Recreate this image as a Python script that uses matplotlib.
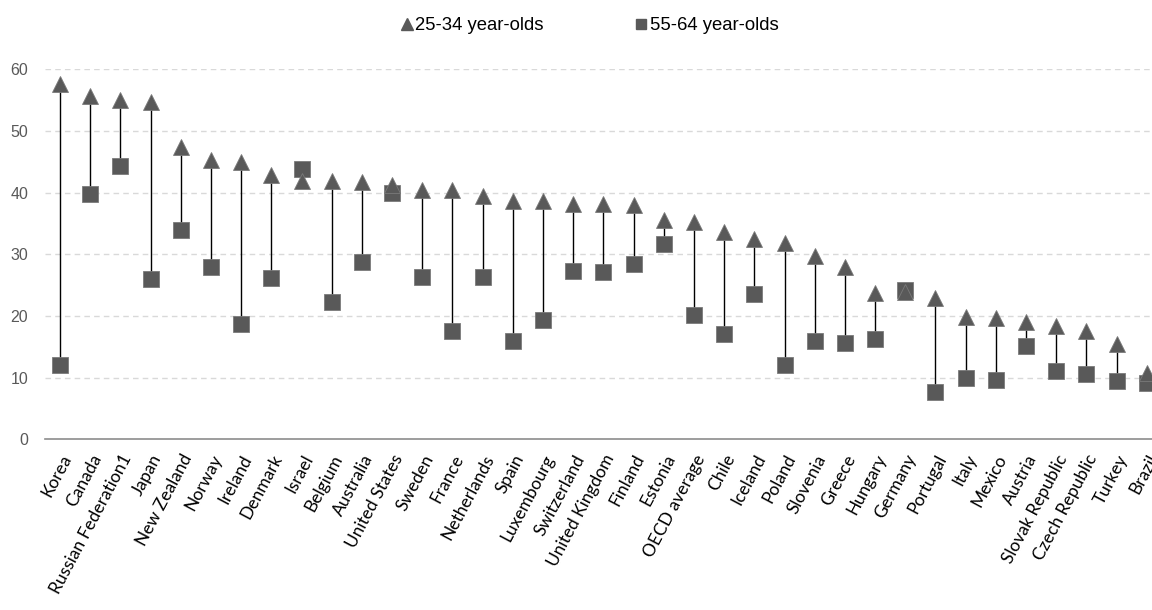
import matplotlib
matplotlib.use("Agg")
import matplotlib.pyplot as plt
from matplotlib.lines import Line2D

countries = ["Korea", "Canada", "Russian Federation1", "Japan", "New Zealand", "Norway",
             "Ireland", "Denmark", "Israel", "Belgium", "Australia", "United States",
             "Sweden", "France", "Netherlands", "Spain", "Luxembourg", "Switzerland",
             "United Kingdom", "Finland", "Estonia", "OECD average", "Chile", "Iceland",
             "Poland", "Slovenia", "Greece", "Hungary", "Germany", "Portugal", "Italy",
             "Mexico", "Austria", "Slovak Republic", "Czech Republic", "Turkey", "Brazil"]

young = [57.6, 55.6, 55.1, 54.7, 47.4, 45.3, 44.9, 42.8, 41.9, 41.9, 41.7, 41.3,
         40.5, 40.5, 39.5, 38.6, 38.6, 38.2, 38.2, 38.0, 35.5, 35.3, 33.6, 32.5,
         31.9, 29.8, 27.9, 23.8, 23.9, 22.9, 19.8, 19.6, 19.1, 18.4, 17.5, 15.4, 10.8]

old = [12.0, 39.7, 44.3, 26.0, 33.9, 27.9, 18.7, 26.2, 43.9, 22.3, 28.8, 40.0,
       26.4, 17.5, 26.4, 16.0, 19.4, 27.3, 27.1, 28.5, 31.7, 20.2, 17.0, 23.5,
       12.0, 16.0, 15.6, 16.2, 24.2, 7.7, 10.0, 9.7, 15.1, 11.0, 10.6, 9.5, 9.1]

yticks = [0, 10, 20, 30, 40, 50, 60]

fig = plt.figure(figsize=(11.52, 6.10), dpi=100)
n = len(countries)
ax = fig.add_axes([0.039, 0.2798, 0.9696, 0.6066])

x = list(range(n))
mcol = "#595959"
for i in x:
    ax.plot([i, i], [old[i], young[i]], color="black", lw=1.0, zorder=2, solid_capstyle="butt")
ax.plot(x, old, linestyle="none", marker="s", markersize=11, markerfacecolor=mcol,
        markeredgecolor="#7a7a7a", markeredgewidth=0.6, zorder=3, clip_on=False)
ax.plot(x, young, linestyle="none", marker="^", markersize=12, markerfacecolor=mcol,
        markeredgecolor="#7a7a7a", markeredgewidth=0.6, zorder=4, clip_on=False)

ax.set_xlim(-0.5, n - 0.5)
ax.set_ylim(0, 60)
ax.set_yticks(yticks)
ax.set_yticklabels([str(v) for v in yticks], fontname="Liberation Sans", fontsize=11.5, color="#595959")
ax.set_xticks(x)
ax.set_xticklabels(countries, rotation=62, ha="right", rotation_mode="anchor",
                   fontname="Lato", fontsize=12.5, color="black")
ax.tick_params(axis="both", length=0)
ax.tick_params(axis="y", pad=12)
ax.tick_params(axis="x", pad=9)

for v in yticks[1:]:
    ax.axhline(v, color="#d9d9d9", lw=1.0, ls=(0, (4, 3)), zorder=0)
for s in ["top", "right", "left"]:
    ax.spines[s].set_visible(False)
ax.spines["bottom"].set_color("#8c8c8c")
ax.spines["bottom"].set_linewidth(1.2)

handles = [Line2D([], [], linestyle="none", marker="^", markersize=8, color=mcol),
           Line2D([], [], linestyle="none", marker="s", markersize=7, color=mcol)]
fig.legend(handles, ["25-34 year-olds", "55-64 year-olds"], loc="center",
           bbox_to_anchor=(0.512, 0.958), ncol=2, frameon=False, handlelength=0.6,
           handletextpad=0.15, columnspacing=5.0,
           prop={"family": "Liberation Sans", "size": 13.3})

fig.savefig("out.png", dpi=100, facecolor="white")
